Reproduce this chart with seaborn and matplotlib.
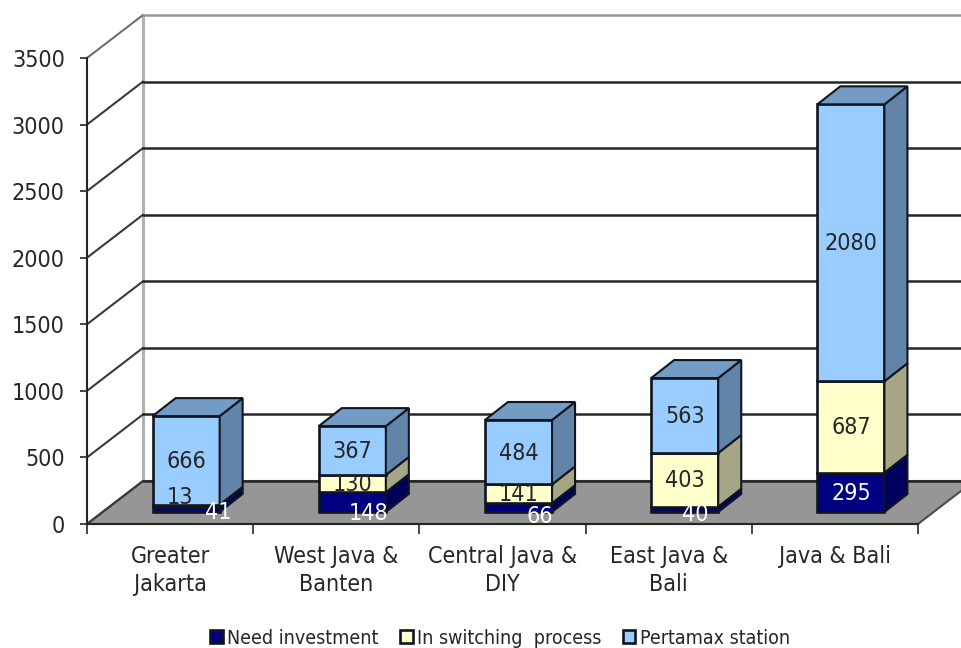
import matplotlib
matplotlib.use("Agg")
import numpy as np
import pandas as pd
import seaborn as sns
import matplotlib.pyplot as plt
from matplotlib.patches import Polygon
from matplotlib.transforms import Affine2D

# Data
regions = ["Greater\nJakarta", "West Java &\nBanten", "Central Java &\nDIY", "East Java &\nBali", "Java & Bali"]
need_investment = [41, 148, 66, 40, 295]
in_switching = [13, 130, 141, 403, 687]
pertamax = [666, 367, 484, 563, 2080]
y_ticks = [0, 500, 1000, 1500, 2000, 2500, 3000, 3500]

df = pd.DataFrame({"region": regions, "need": need_investment,
                   "switching": in_switching, "pertamax": pertamax})

sns.set_style("white")
plt.rcParams["font.family"] = ["DejaVu Sans"]
plt.rcParams["font.stretch"] = "condensed"
TEXT = "#262626"
LABEL_SIZE = 16.7

fig = plt.figure(figsize=(9.62, 6.48), dpi=100)
ax = fig.add_axes([87 / 962, 124 / 648, 831 / 962, 466 / 648])

# one pixel in data units
PX = 5 / 831
PY = 3500 / 466
wall_dx, wall_dy = 56 * PX, 43 * PY     # depth of the chart box
bar_dx, bar_dy = 23 * PX, 18 * PY       # depth of a bar
shift_x, shift_y = 16 * PX, 12 * PY     # bars stand inside the floor
BAR_W = 67 / 166
x0, x1 = -0.5, 4.5

# floor and walls
ax.add_patch(Polygon([(x0, 0), (x0 + wall_dx, wall_dy), (x1 + wall_dx, wall_dy), (x1, 0)],
                     closed=True, facecolor="#969696", edgecolor="#4d4d4d", lw=1.5,
                     zorder=1, clip_on=False))
ax.plot([x0 + wall_dx] * 2, [wall_dy, 3500 + wall_dy], color="#b0b0b0", lw=2.2, zorder=1, clip_on=False)
for v in y_ticks:
    is_top = v == 3500
    ax.plot([x0, x0 + wall_dx], [v, v + wall_dy], color="#3a3a3a" if not is_top else "#707070",
            lw=1.5, zorder=1.5, clip_on=False)
    ax.plot([x0 + wall_dx, x1 + wall_dx], [v + wall_dy, v + wall_dy],
            color="#999999" if is_top else "#262626", lw=1.8, zorder=1.5, clip_on=False)

# stacked front faces
series = [
    ("need", "Need investment", "#000080", "#00005c", None),
    ("switching", "In switching  process", "#ffffcc", "#a6a686", None),
    ("pertamax", "Pertamax station", "#99ccff", "#6184a8", "#739bc4"),
]
lift = Affine2D().translate(shift_x, shift_y) + ax.transData
bottom = np.zeros(len(regions))
for col, name, face, side, top in series:
    vals = df[col].to_numpy()
    sns.barplot(data=df, x="region", y=col, ax=ax, bottom=bottom, width=BAR_W, color=face,
                saturation=1, edgecolor="#10151f", linewidth=1.9, label=name, zorder=3)
    for i, (b, v) in enumerate(zip(bottom, vals)):
        r = i + BAR_W / 2
        ax.add_patch(Polygon([(r, b), (r + bar_dx, b + bar_dy), (r + bar_dx, b + v + bar_dy), (r, b + v)],
                             closed=True, facecolor=side, edgecolor="#10151f", lw=1.5,
                             transform=lift, zorder=3, clip_on=False))
        if top:
            l = i - BAR_W / 2
            ax.add_patch(Polygon([(l, b + v), (r, b + v), (r + bar_dx, b + v + bar_dy), (l + bar_dx, b + v + bar_dy)],
                                 closed=True, facecolor=top, edgecolor="#10151f", lw=1.5,
                                 transform=lift, zorder=3, clip_on=False))
    bottom = bottom + vals

for bars in ax.containers:
    for p in bars:
        p.set_transform(lift)
        p.set_clip_on(False)

# value labels, small segments are pushed off centre as in the original (pixels)
nudges = {("need", 0): (32, -2), ("need", 1): (16, -10), ("need", 2): (21, -8), ("need", 3): (11, -4),
          ("switching", 0): (-6, 9)}
bottom = np.zeros(len(regions))
for col, name, face, side, top in series:
    vals = df[col].to_numpy()
    colour = "white" if col == "need" else TEXT
    for i, (b, v) in enumerate(zip(bottom, vals)):
        nx, ny = nudges.get((col, i), (0, 0))
        ax.text(i + shift_x + nx * PX, b + v / 2 + shift_y + (ny - 1) * PY, str(v), color=colour,
                fontsize=LABEL_SIZE, ha="center", va="center", zorder=6, clip_on=False)
    bottom = bottom + vals

# axes
ax.set_xlim(x0, x1)
ax.set_ylim(0, 3500)
ax.patch.set_alpha(0)
sns.despine(ax=ax, top=True, right=True)
for s in ["left", "bottom"]:
    ax.spines[s].set_color("#262626")
    ax.spines[s].set_linewidth(1.5)
    ax.spines[s].set_zorder(2)
ax.set_xlabel("")
ax.set_ylabel("")
ax.set_yticks(y_ticks)
ax.tick_params(axis="y", direction="out", length=5, width=1.2, color="#262626",
               left=True, labelsize=LABEL_SIZE, labelcolor=TEXT, pad=11)
ax.set_xticks(np.arange(x0, x1 + 1), labels=[])
ax.set_xticks(np.arange(len(regions)), labels=regions, minor=True)
ax.tick_params(axis="x", which="major", direction="out", length=7, width=1.2, color="#262626", bottom=True)
ax.tick_params(axis="x", which="minor", length=0, labelsize=LABEL_SIZE, labelcolor=TEXT, pad=15)
for t in ax.get_xticklabels(minor=True):
    t.set_linespacing(1.3)

handles, labels = ax.get_legend_handles_labels()
ax.legend(handles, labels, ncol=3, loc="center", bbox_to_anchor=(500 / 962, 10 / 648),
          bbox_transform=fig.transFigure, frameon=False, fontsize=14,
          handlelength=0.65, handleheight=0.65, handletextpad=0.22, columnspacing=1.1,
          labelcolor=TEXT, borderpad=0)

fig.savefig("out.png", dpi=100)
